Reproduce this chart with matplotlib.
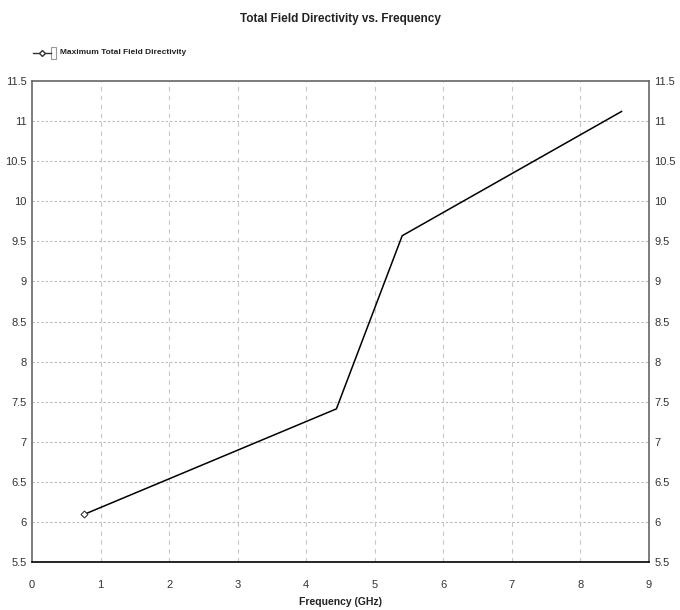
import matplotlib
matplotlib.use("Agg")
import matplotlib.pyplot as plt
from matplotlib import font_manager as fm

names = {f.name for f in fm.fontManager.ttflist}
fam = "Liberation Sans Narrow" if "Liberation Sans Narrow" in names else "Liberation Sans"
plt.rcParams['font.family'] = [fam, 'DejaVu Sans']

freq = [0.763, 4.44, 5.40, 8.60]
directivity = [6.095, 7.41, 9.57, 11.12]
xticks = [0, 1, 2, 3, 4, 5, 6, 7, 8, 9]
yticks = [5.5, 6, 6.5, 7, 7.5, 8, 8.5, 9, 9.5, 10, 10.5, 11, 11.5]
ylabels = ["5.5", "6", "6.5", "7", "7.5", "8", "8.5", "9", "9.5", "10", "10.5", "11", "11.5"]

fig = plt.figure(figsize=(6.8, 6.1), dpi=100)
ax = fig.add_axes([32/680, 48/610, (649-32)/680, (562-81)/610])
ax.plot(freq, directivity, color='black', lw=1.1, zorder=3)
ax.plot(freq[:1], directivity[:1], marker='D', ms=3.5, mfc='white', mec='#333333', mew=0.8, ls='none', zorder=4)

ax.set_xlim(0, 9)
ax.set_ylim(5.5, 11.5)
ax.set_xticks(xticks)
ax.set_yticks(yticks)
ax.set_yticklabels(ylabels)
ax.tick_params(length=0, labelsize=8, colors='#333333')
ax.tick_params(axis='x', pad=13)
ax.tick_params(axis='y', labelright=True, right=False, pad=4)

for v in yticks[1:-1]:
    ax.axhline(v, color='#b8b8b8', lw=0.8, ls=(0, (2, 2)), zorder=1)
for v in xticks[1:-1]:
    ax.axvline(v, color='#c8c8c8', lw=0.8, ls=(0, (4, 4)), zorder=1)

for s in ['left', 'top', 'right']:
    ax.spines[s].set_color('#666666')
    ax.spines[s].set_linewidth(1.2)
ax.spines['bottom'].set_color('black')
ax.spines['bottom'].set_linewidth(1.2)

ax.set_xlabel("Frequency (GHz)", fontsize=7.5, fontweight='bold', color='#222222', labelpad=5)
fig.text(0.5, 1 - 19/610, "Total Field Directivity vs. Frequency", ha='center', va='center',
         fontsize=8.5, fontweight='bold', color='#222222')

# legend-like entry
fig.lines.append(matplotlib.lines.Line2D([33/680, 51/680], [1 - 53/610, 1 - 53/610], color='#333333', lw=1, transform=fig.transFigure))
fig.lines.append(matplotlib.lines.Line2D([42/680], [1 - 53/610], marker='D', ms=3, mfc='white', mec='#333333', ls='none', transform=fig.transFigure))
fig.patches.append(matplotlib.patches.Rectangle((51/680, 1 - 59/610), 5/680, 12/610, fill=False, ec='#999999', lw=0.8, transform=fig.transFigure))
fig.text(60/680, 1 - 53/610, "Maximum Total Field Directivity", ha='left', va='center', fontsize=6,
         fontweight='bold', color='#222222')

fig.savefig("out.png", dpi=100)
